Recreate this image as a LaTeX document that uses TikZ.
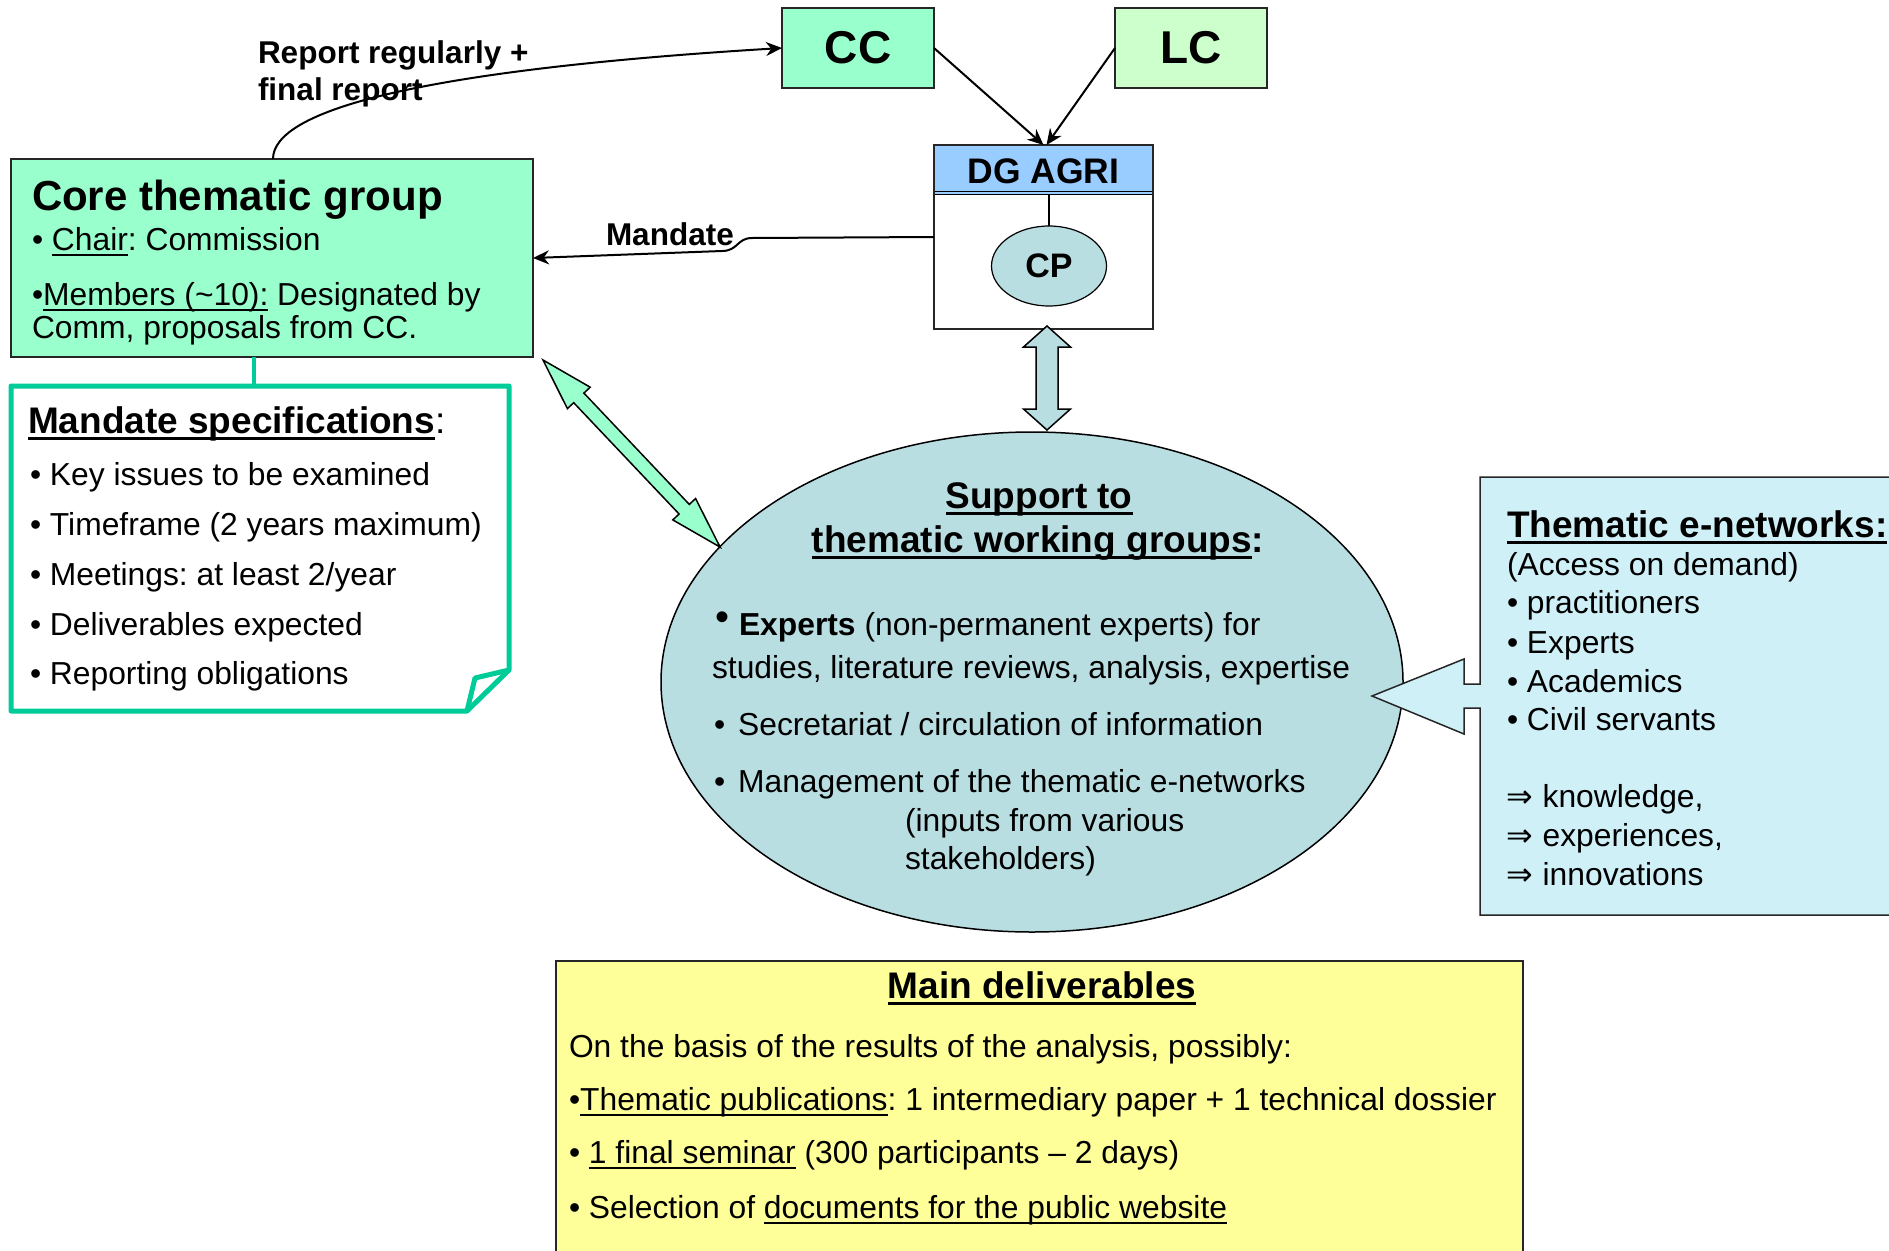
\documentclass[tikz,border=0pt]{standalone}
\usepackage{fontspec}
\setmainfont{Liberation Sans}
\newfontfamily\symf{DejaVu Sans}
\usetikzlibrary{shapes.geometric,arrows.meta,calc}
\definecolor{mint}{RGB}{153,255,204}
\definecolor{lcgreen}{RGB}{204,255,204}
\definecolor{dgblue}{RGB}{153,204,255}
\definecolor{ellblue}{RGB}{185,222,226}
\definecolor{themblue}{RGB}{208,240,248}
\definecolor{delyellow}{RGB}{255,255,153}
\definecolor{tealc}{RGB}{0,204,153}
\newcommand\bodyf{\fontsize{31.8}{38}\selectfont}
\newcommand\titf{\fontsize{37}{44}\selectfont\bfseries}
\newcommand\myul[1]{\setbox0=\hbox{#1}\rlap{\rule[-0.2em]{\wd0}{0.07em}}\box0\relax}
\newcommand\myulb[1]{\setbox0=\hbox{#1}\rlap{\rule[-0.2em]{\wd0}{0.1em}}\box0\relax}
\frenchspacing
\begin{document}
\begin{tikzpicture}[x=1pt,y=-1pt,
  every node/.style={inner sep=0pt,outer sep=0pt},
  tx/.style={anchor=base west,font=\bodyf},
  boxx/.style={draw=black!85,line width=1.5pt,anchor=north west},
  conn/.style={line width=2pt,-{Stealth[length=16pt,width=14pt]}},
  blockarrow/.style={draw=black,line width=1.5pt,line join=miter},
  lbl/.style={anchor=base west,font=\fontsize{31.5}{31.5}\selectfont\bfseries}
]
\fill[white] (0,0) rectangle (1889,1250);
\useasboundingbox (0,0) rectangle (1889,1250);

% ---------- top boxes
\node[boxx,fill=mint,minimum width=152,minimum height=80,font=\fontsize{46}{46}\selectfont\bfseries] (cc) at (782,8) {CC};
\node[boxx,fill=lcgreen,minimum width=152,minimum height=80,font=\fontsize{46}{46}\selectfont\bfseries] (lc) at (1115,8) {LC};

% ---------- DG AGRI
\node[boxx,fill=white,minimum width=219,minimum height=184] (dg) at (934,145) {};
\fill[dgblue] (dg.north west) rectangle ($(dg.north east)+(0,49)$);
\draw[line width=1pt] ($(dg.north west)+(0,46.5)$) -- ($(dg.north east)+(0,46.5)$);
\draw[line width=1pt] ($(dg.north west)+(0,49.5)$) -- ($(dg.north east)+(0,49.5)$);
\draw[line width=1.5pt,draw=black!85] (dg.north west) rectangle (dg.south east);
\node[anchor=base,font=\fontsize{35.5}{36}\selectfont\bfseries] (dgt) at (1043.5,183) {DG AGRI};
\node[ellipse,draw,line width=1.2pt,fill=ellblue,minimum width=115,minimum height=80,font=\fontsize{34}{34}\selectfont\bfseries] (cp) at (1049,266) {CP};
\draw[line width=1.2pt] (cp.north) -- ++(0,-32);

% ---------- core thematic group
\node[boxx,fill=mint,minimum width=522,minimum height=198] (core) at (11,159) {};
\node[anchor=base west,font=\fontsize{42}{42}\selectfont\bfseries] (coret) at (32,210) {Core thematic group};
\node[tx] (core1) at (32,250) {• \myul{Chair}: Commission};
\node[tx] (core2) at (32,305) {•\myul{Members (\textasciitilde10):} Designated by};
\node[tx] (core3) at (32,338) {Comm, proposals from CC.};

% ---------- connectors top
\draw[conn] (cc.east) -- (dg.north);
\draw[conn] (lc.west) -- ([xshift=3pt]dg.north);
\node[lbl] (rep1) at (258,63) {Report regularly +};
\node[lbl] (rep2) at (258,100) {final report};
\draw[conn] ([xshift=1pt]core.north) .. controls (273,110) and (420,70) .. (cc.west);
\node[lbl] (mandl) at (606,245) {Mandate};
\draw[conn] (dg.west) -- (752,238) .. controls (737,238) and (738,251) .. (722,251) -- (core.east);

% ---------- mandate specifications
\node[anchor=north west,minimum width=498,minimum height=325] (mand) at (11,386) {};
\draw[tealc,line width=4.5pt] ([xshift=-6pt]mand.north |- core.south) -- ([xshift=-6pt]mand.north);
\filldraw[fill=white,draw=tealc,line width=5pt,line join=round] (11,386) -- (509,386) -- (509,670) -- (467,711) -- (11,711) -- cycle;
\draw[tealc,line width=5pt,line join=round] (467,711) -- (475,678) -- (509,670);
\node[anchor=base west,font=\titf] (mandt) at (28,433) {\myulb{Mandate specifications}\textmd{:}};
\node[tx] (m1) at (30,485) {• Key issues to be examined};
\node[tx] (m2) at (30,535) {• Timeframe (2 years maximum)};
\node[tx] (m3) at (30,585) {• Meetings: at least 2/year};
\node[tx] (m4) at (30,635) {• Deliverables expected};
\node[tx] (m5) at (30,684) {• Reporting obligations};

% ---------- support ellipse
\node[ellipse,draw,line width=1.5pt,fill=ellblue,minimum width=742,minimum height=500] (sup) at (1032,682) {};
\node[anchor=base,font=\titf] (supt1) at (1039,508) {\myulb{Support to}};
\node[anchor=base,font=\titf] (supt2) at (1038,552) {\myulb{thematic working groups}:};
\node[tx] (s1) at (715,635) {{\fontsize{40}{40}\selectfont\raisebox{0.12em}{•}}\hspace{10pt}\textbf{Experts} (non-permanent experts) for};
\node[tx] (s2) at (712,678) {studies, literature reviews, analysis, expertise};
\node[tx] (s3) at (714,735) {•\hspace{13pt}Secretariat / circulation of information};
\node[tx] (s4) at (714,792) {•\hspace{13pt}Management of the thematic e-networks};
\node[tx] (s5) at (905,831) {(inputs from various};
\node[tx] (s6) at (905,869) {stakeholders)};

% ---------- block arrows
\filldraw[blockarrow,fill=mint] (543,360) -- (590.2,387.2) -- (583.9,393.1) -- (689.3,504.4) -- (695.6,498.5) -- (720.1,547.1) -- (672.8,519.9) -- (679.1,514.0) -- (573.7,402.7) -- (567.4,408.6) -- cycle;
\filldraw[blockarrow,fill=ellblue] (1047,326) -- (1070.5,347) -- (1058,347) -- (1058,409) -- (1070.5,409) -- (1047,430) -- (1023.5,409) -- (1036,409) -- (1036,347) -- (1023.5,347) -- cycle;

% ---------- thematic e-networks
\filldraw[fill=themblue,draw=black!85,line width=1.5pt] (1480,477) -- (1900,477) -- (1900,915) -- (1480,915) -- (1480,708) -- (1464,708) -- (1464,734) -- (1372,696) -- (1464,659) -- (1464,684) -- (1480,684) -- cycle;
\node[anchor=north west,minimum width=410,minimum height=438] (them) at (1480,477) {};
\node[anchor=base west,font=\titf] (themt) at (1507,537) {\myulb{Thematic e-networks:}};
\node[tx] (t1) at (1507,575) {(Access on demand)};
\node[tx] (t2) at (1507,613) {• practitioners};
\node[tx] (t3) at (1507,653) {• Experts};
\node[tx] (t4) at (1507,692) {• Academics};
\node[tx] (t5) at (1507,730) {• Civil servants};
\node[tx] (t6) at (1506,807) {{\symf ⇒}\hspace{10pt}knowledge,};
\node[tx] (t7) at (1506,846) {{\symf ⇒}\hspace{10pt}experiences,};
\node[tx] (t8) at (1506,885) {{\symf ⇒}\hspace{10pt}innovations};

% ---------- main deliverables
\node[boxx,fill=delyellow,minimum width=967,minimum height=310] (deliv) at (556,961) {};
\node[anchor=base,font=\titf] (delt) at (1042,998) {\myulb{Main deliverables}};
\node[tx] (d1) at (569,1057) {On the basis of the results of the analysis, possibly:};
\node[tx] (d2) at (569,1110) {•\myul{Thematic publications}: 1 intermediary paper + 1 technical dossier};
\node[tx] (d3) at (569,1163) {• \myul{1 final seminar} (300 participants – 2 days)};
\node[tx] (d4) at (569,1218) {• Selection of \myul{documents for the public website}};
\end{tikzpicture}
\end{document}
